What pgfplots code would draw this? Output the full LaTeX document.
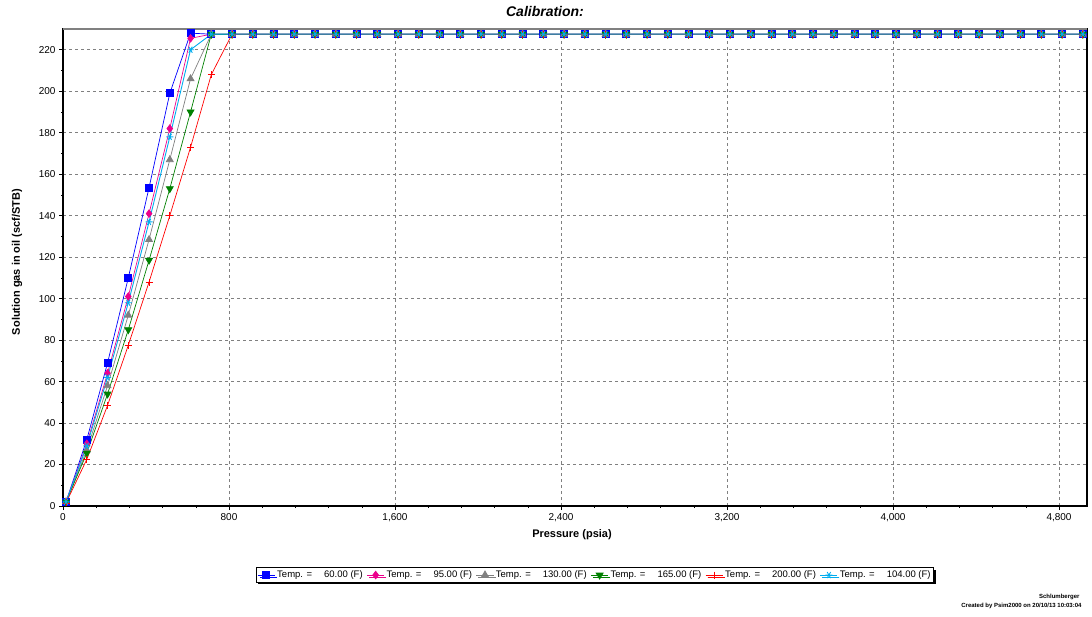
\documentclass[border=0pt]{standalone}
\usepackage{pgfplots}
\usepackage{pgfplotstable}
\usepackage{fontspec}
\usetikzlibrary{shadows}
\setmainfont{Liberation Sans}
\pgfplotsset{compat=1.18}
\pgfplotstableread{
P T60 T95 T130 T165 T200 T104
14.7 2 2 2 2 1.5 2
114.7 32 30 27 25.5 22.5 29
214.7 69 64 58 54 48.5 62
314.7 110 101 92 85 77.5 98
414.7 153.5 141 128.5 118.5 108 137
514.7 199 182 167 153 140 178
614.7 228 225.5 206 190 173 220
714.7 227.5 227.5 227.5 227.5 208 227.5
814.7 227.5 227.5 227.5 227.5 227.5 227.5
914.7 227.5 227.5 227.5 227.5 227.5 227.5
1014.7 227.5 227.5 227.5 227.5 227.5 227.5
1114.7 227.5 227.5 227.5 227.5 227.5 227.5
1214.7 227.5 227.5 227.5 227.5 227.5 227.5
1314.7 227.5 227.5 227.5 227.5 227.5 227.5
1414.7 227.5 227.5 227.5 227.5 227.5 227.5
1514.7 227.5 227.5 227.5 227.5 227.5 227.5
1614.7 227.5 227.5 227.5 227.5 227.5 227.5
1714.7 227.5 227.5 227.5 227.5 227.5 227.5
1814.7 227.5 227.5 227.5 227.5 227.5 227.5
1914.7 227.5 227.5 227.5 227.5 227.5 227.5
2014.7 227.5 227.5 227.5 227.5 227.5 227.5
2114.7 227.5 227.5 227.5 227.5 227.5 227.5
2214.7 227.5 227.5 227.5 227.5 227.5 227.5
2314.7 227.5 227.5 227.5 227.5 227.5 227.5
2414.7 227.5 227.5 227.5 227.5 227.5 227.5
2514.7 227.5 227.5 227.5 227.5 227.5 227.5
2614.7 227.5 227.5 227.5 227.5 227.5 227.5
2714.7 227.5 227.5 227.5 227.5 227.5 227.5
2814.7 227.5 227.5 227.5 227.5 227.5 227.5
2914.7 227.5 227.5 227.5 227.5 227.5 227.5
3014.7 227.5 227.5 227.5 227.5 227.5 227.5
3114.7 227.5 227.5 227.5 227.5 227.5 227.5
3214.7 227.5 227.5 227.5 227.5 227.5 227.5
3314.7 227.5 227.5 227.5 227.5 227.5 227.5
3414.7 227.5 227.5 227.5 227.5 227.5 227.5
3514.7 227.5 227.5 227.5 227.5 227.5 227.5
3614.7 227.5 227.5 227.5 227.5 227.5 227.5
3714.7 227.5 227.5 227.5 227.5 227.5 227.5
3814.7 227.5 227.5 227.5 227.5 227.5 227.5
3914.7 227.5 227.5 227.5 227.5 227.5 227.5
4014.7 227.5 227.5 227.5 227.5 227.5 227.5
4114.7 227.5 227.5 227.5 227.5 227.5 227.5
4214.7 227.5 227.5 227.5 227.5 227.5 227.5
4314.7 227.5 227.5 227.5 227.5 227.5 227.5
4414.7 227.5 227.5 227.5 227.5 227.5 227.5
4514.7 227.5 227.5 227.5 227.5 227.5 227.5
4614.7 227.5 227.5 227.5 227.5 227.5 227.5
4714.7 227.5 227.5 227.5 227.5 227.5 227.5
4814.7 227.5 227.5 227.5 227.5 227.5 227.5
4914.7 227.5 227.5 227.5 227.5 227.5 227.5
}\datatable
\definecolor{cgray}{RGB}{128,128,128}
\definecolor{cgreen}{RGB}{0,128,0}
\begin{document}
\begin{tikzpicture}
\useasboundingbox (0pt,0pt) rectangle (1092pt,616pt);
\begin{axis}[
  at={(63pt,110pt)}, anchor=south west,
  scale only axis, width=1024pt, height=477pt,
  xmin=0, xmax=4935, ymin=0, ymax=230,
  xtick={0,800,...,4800}, ytick={0,20,...,220},
  minor x tick num=4, minor y tick num=1,
  tick align=outside, tick pos=left,
  major tick length=4pt, minor tick length=2pt,
  tick style={black, line width=0.6pt},
  /pgf/number format/assume math mode=true,
  /pgf/number format/1000 sep={,},
  ticklabel style={font=\fontsize{10}{11}\selectfont},
  grid=major,
  major grid style={gray, line width=0.6pt, dash pattern=on 3pt off 3pt},
  axis line style={black, line width=1.5pt},
  clip=false,
  legend columns=6,
  legend style={at={(0.5195,-0.1447)}, anchor=center,
    font=\fontsize{9.5}{10}\selectfont, draw=black, line width=0.8pt,
    drop shadow={shadow xshift=2pt, shadow yshift=-2pt, fill=black, opacity=1},
    inner sep=1pt, row sep=0pt, /tikz/every even column/.append style={column sep=2pt}},
  legend image post style={line width=0.8pt},
]
\addplot[blue, line width=0.7pt, mark=square*, mark size=3.5pt] table[x=P,y=T60]{\datatable};
\addlegendentry{Temp. =\hspace{12pt}60.00 (F)}
\addplot[magenta, line width=0.7pt, mark=diamond*, mark size=3.8pt] table[x=P,y=T95]{\datatable};
\addlegendentry{Temp. =\hspace{12pt}95.00 (F)}
\addplot[cgray, line width=0.7pt, mark=triangle*, mark size=4pt] table[x=P,y=T130]{\datatable};
\addlegendentry{Temp. =\hspace{12pt}130.00 (F)}
\addplot[cgreen, line width=0.7pt, mark=triangle*, mark size=4pt, mark options={rotate=180}] table[x=P,y=T165]{\datatable};
\addlegendentry{Temp. =\hspace{12pt}165.00 (F)}
\addplot[red, line width=0.7pt, mark=+, mark size=3.5pt] table[x=P,y=T200]{\datatable};
\addlegendentry{Temp. =\hspace{12pt}200.00 (F)}
\addplot[cyan, line width=0.9pt, mark=asterisk, mark size=3.5pt, mark options={rotate=90}] table[x=P,y=T104]{\datatable};
\addlegendentry{Temp. =\hspace{12pt}104.00 (F)}
\draw[gray, line width=1.5pt] (rel axis cs:0,1) -- (rel axis cs:1,1);
\end{axis}
\node[font=\fontsize{14}{16}\selectfont\bfseries\itshape] at (545pt,604pt) {Calibration:};
\node[font=\fontsize{11}{12}\selectfont\bfseries] at (572pt,81pt) {Pressure (psia)};
\node[font=\fontsize{11}{12}\selectfont\bfseries, rotate=90] at (17pt,354pt) {Solution gas in oil (scf/STB)};
\node[font=\fontsize{6}{7}\selectfont\bfseries, anchor=east] at (1083pt,19pt) {Schlumberger};
\node[font=\fontsize{6}{7}\selectfont\bfseries, anchor=east] at (1085pt,10pt) {Created by Psim2000 on 20/10/13 10:03:04};
\end{tikzpicture}
\end{document}
